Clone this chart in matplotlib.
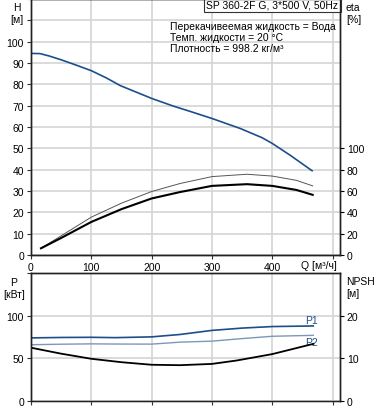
import numpy as np
import matplotlib
matplotlib.use("Agg")
import matplotlib.pyplot as plt

plt.rcParams['font.family'] = ['Liberation Sans', 'DejaVu Sans']
plt.rcParams['font.size'] = 7.5

# H curve
q_h = [0, 15, 30, 50, 75, 100, 125, 148, 181, 200, 236, 264, 300, 347, 383, 400, 430, 466]
h = [94.5, 94.4, 93.3, 91.5, 89.0, 86.4, 83.0, 79.4, 75.6, 73.4, 69.8, 67.3, 64.0, 59.3, 55.0, 52.3, 46.7, 39.5]

# eta curves
q_eta = [16.6, 50, 100, 150, 200, 247, 300, 358, 400, 440, 467]
eta_thin = [6.3, 18, 35.5, 48.6, 59.5, 67, 73.5, 75.7, 74, 70, 64.8]
eta_thick = [6.3, 16, 31, 43, 53, 59, 64.8, 66.4, 64.8, 61, 56.4]

# power and npsh
q_p = [0, 50, 100, 140, 200, 247, 300, 350, 400, 468]
p1 = [74, 74.5, 74.7, 74.3, 75.2, 78, 82.8, 85.5, 87.3, 88]
p2 = [66, 66.6, 67, 66.8, 66.7, 69, 70.2, 73.2, 75.9, 77]
q_npsh = [0, 50, 100, 150, 200, 247, 300, 341, 400, 468]
npsh = [12.5, 11.1, 9.9, 9.1, 8.5, 8.4, 8.7, 9.5, 11.0, 13.4]

blue = '#1b4f8a'
grid_c = '#d4d4d4'

fig = plt.figure(figsize=(3.78, 4.10), dpi=100)
ax = fig.add_axes([0.082, 0.3756, 0.817, 0.6244])
axr = ax.twinx()
bx = fig.add_axes([0.082, 0.0195, 0.817, 0.312])
bxr = bx.twinx()

for a in (ax, bx):
    a.set_xlim(0, 512)
    a.set_xticks([0, 100, 200, 300, 400, 500])
    a.grid(True, color=grid_c, lw=1.2)
    a.set_axisbelow(True)
    a.tick_params(length=3, pad=2, color='#333333')

ax.set_ylim(0, 120)
ax.set_yticks(range(0, 121, 10))
ax.set_yticklabels([str(v) if v <= 100 else '' for v in range(0, 121, 10)])
ax.set_xticklabels(['0', '100', '200', '300', '400', ''])
axr.set_ylim(0, 240)
axr.set_yticks(range(0, 101, 20))
axr.tick_params(length=3, pad=2)

ax.plot(q_h, h, color=blue, lw=1.2)
axr.plot(q_eta, eta_thin, color='#555555', lw=0.7)
axr.plot(q_eta, eta_thick, color='black', lw=1.5)

ax.text(-0.045, 0.99, 'H\n[м]', transform=ax.transAxes, ha='center', va='top', linespacing=1.3)
ax.text(1.02, 0.99, 'eta\n[%]', transform=ax.transAxes, ha='left', va='top', linespacing=1.3)
ax.text(477, -2.5, 'Q [м³/ч]', ha='center', va='top')
ax.text(0.995, 0.997, 'SP 360-2F G, 3*500 V, 50Hz', transform=ax.transAxes, ha='right', va='top',
        bbox=dict(boxstyle='square,pad=0.25', fc='white', ec='#333333', lw=0.8))
ax.text(0.45, 0.915, 'Перекачивеемая жидкость = Вода\nТемп. жидкости = 20 °C\nПлотность = 998.2 кг/м³',
        transform=ax.transAxes, ha='left', va='top', linespacing=1.15)

bx.set_ylim(0, 150)
bx.set_yticks([0, 50, 100, 150])
bx.set_yticklabels(['0', '50', '100', ''])
bx.set_xticklabels([])
bxr.set_ylim(0, 30)
bxr.set_yticks([0, 10, 20])
bxr.tick_params(length=3, pad=2)

bx.plot(q_p, p1, color=blue, lw=1.2)
bx.plot(q_p, p2, color='#7d97b8', lw=1.0)
bxr.plot(q_npsh, npsh, color='black', lw=1.3)
bx.text(q_p[-1] - 3, p1[-1] + 1.5, 'P1', color=blue, ha='center', va='bottom')
bx.text(q_p[-1] - 3, p2[-1] - 2.5, 'P2', color=blue, ha='center', va='top')

bx.text(-0.055, 0.97, 'P\n[кВт]', transform=bx.transAxes, ha='center', va='top', linespacing=1.3)
bx.text(1.02, 0.98, 'NPSH\n[м]', transform=bx.transAxes, ha='left', va='top', linespacing=1.3)

for a in (ax, axr, bx, bxr):
    for s in a.spines.values():
        s.set_color('#222222')
        s.set_linewidth(1.0)
bx.spines['bottom'].set_color('#999999')

fig.savefig('out.png', dpi=100)
